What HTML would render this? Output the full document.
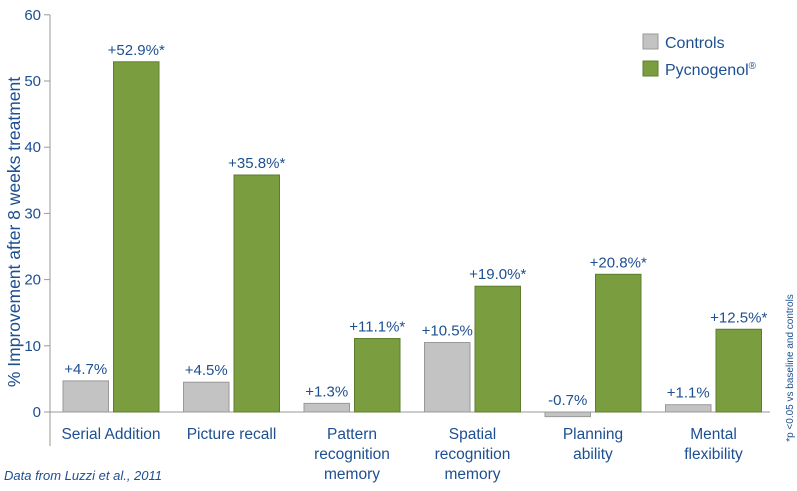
<!DOCTYPE html>
<html><head><meta charset="utf-8"><style>
body{margin:0;background:#fff;font-family:"Liberation Sans",sans-serif}
svg text{font-family:"Liberation Sans",sans-serif;fill:#1d4f91}
</style></head><body>
<svg width="797" height="486" viewBox="0 0 797 486">
<g id="axes"></g><g id="bars"></g>
<g>
<rect x="643" y="34" width="15" height="15" fill="#c3c3c3" stroke="#999"/>
<text x="665" y="48" font-size="16">Controls</text>
<rect x="643" y="61" width="15" height="15" fill="#7a9e3f" stroke="#5d7d2c"/>
<text x="665" y="75" font-size="16">Pycnogenol<tspan font-size="10" dy="-6">®</tspan></text>
</g>
<text transform="translate(20,232) rotate(-90)" text-anchor="middle" font-size="17.5">% Improvement after 8 weeks treatment</text>
<text transform="translate(793,368) rotate(-90)" text-anchor="middle" font-size="10">*p &lt;0.05 vs baseline and controls</text>
<text x="4" y="480" font-size="13" font-style="italic">Data from Luzzi et al., 2011</text>
</svg>
<script>
const categories=[["Serial Addition"],["Picture recall"],["Pattern","recognition","memory"],["Spatial","recognition","memory"],["Planning","ability"],["Mental","flexibility"]];
const controls=[4.7,4.5,1.3,10.5,-0.7,1.1];
const pycno=[52.9,35.8,11.1,19.0,20.8,12.5];
const controlLabels=["+4.7%","+4.5%","+1.3%","+10.5%","-0.7%","+1.1%"];
const pycnoLabels=["+52.9%*","+35.8%*","+11.1%*","+19.0%*","+20.8%*","+12.5%*"];
const yTicks=[0,10,20,30,40,50,60];
const NS="http://www.w3.org/2000/svg";
const y=v=>412-v*6.62;
const gx=i=>63+i*120.5;
function mk(t,a,p){const e=document.createElementNS(NS,t);for(const k in a)e.setAttribute(k,a[k]);p.appendChild(e);return e;}
const ax=document.getElementById('axes'),bg=document.getElementById('bars');
const yl=mk('line',{x1:50,y1:y(60),x2:50,y2:446,stroke:'#999'},ax);


const zl=mk('line',{x1:50,y1:y(0),x2:770,y2:y(0),stroke:'#999'},ax);


yTicks.forEach(t=>{
 const l=mk('line',{x1:44,x2:50,y1:y(t),y2:y(t),stroke:'#999'},ax);
 
 
 const tx=mk('text',{x:41,y:y(t)+5,'text-anchor':'end','font-size':15},ax);tx.textContent=t;
 
 
});
categories.forEach((c,i)=>{
 const x0=gx(i),w=45.5;
 [[controls[i],controlLabels[i],x0,'#c3c3c3','#999','control'],[pycno[i],pycnoLabels[i],x0+50.5,'#7a9e3f','#5d7d2c','pycnogenol']].forEach(([v,lab,x,f,s,n])=>{
  const r=mk('rect',{x:x,y:Math.min(y(v),y(0)),width:w,height:Math.abs(y(v)-y(0)),fill:f,stroke:s},bg);
  
  
  const t=mk('text',{x:x+w/2,y:Math.min(y(v),y(0))-7,'text-anchor':'middle','font-size':15},bg);t.textContent=lab;
  
  
 });
 const ct=mk('text',{x:x0+48,'text-anchor':'middle','font-size':15.5},bg);
 
 
 c.forEach((line,j)=>{const ts=mk('tspan',{x:x0+48,y:439+j*20},ct);ts.textContent=line;});
});
</script>
</body></html>
